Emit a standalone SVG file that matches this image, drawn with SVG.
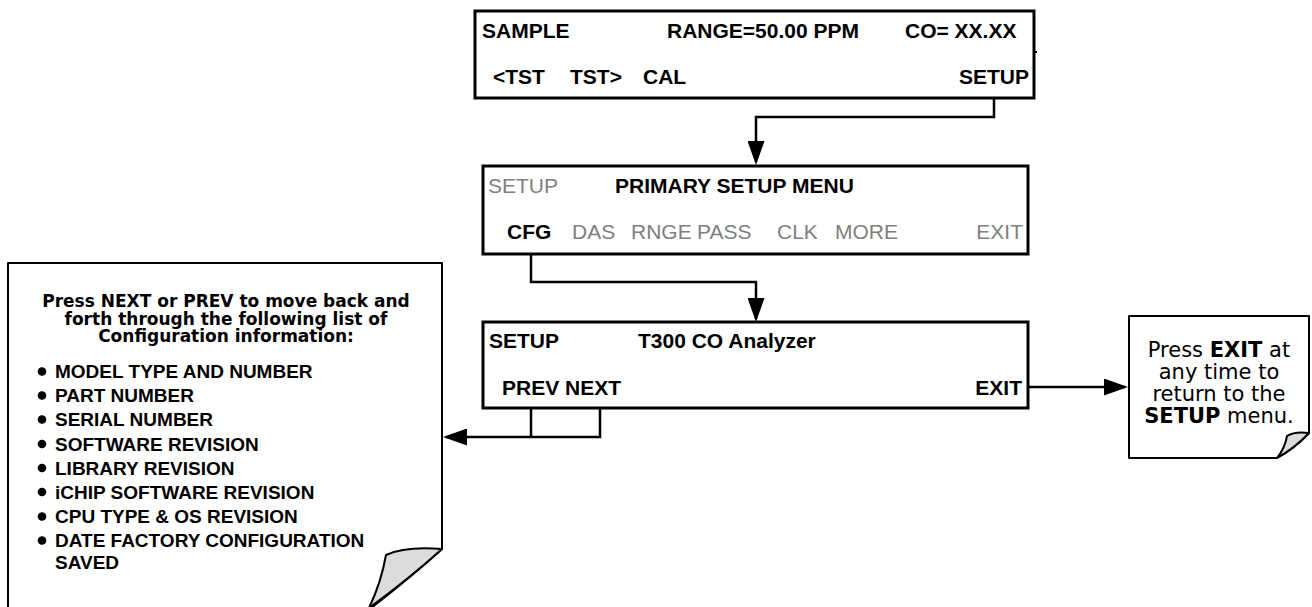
<svg xmlns="http://www.w3.org/2000/svg" width="1312" height="607" viewBox="0 0 1312 607">
<style>
.box{fill:#fff;stroke:#000;stroke-width:3}
.t{font-family:"Liberation Sans",Arial,sans-serif;font-size:21px;font-weight:bold;fill:#000}
.g{font-weight:normal;fill:#808080}
.note{fill:#fff;stroke:#000;stroke-width:2;stroke-linejoin:round}
.fold{fill:#dcdcdc;stroke:#000;stroke-width:2;stroke-linejoin:round}
.nt{font-family:"DejaVu Sans",Verdana,sans-serif;font-size:21px;text-anchor:middle;fill:#000}
.hd{font-family:"DejaVu Sans",Verdana,sans-serif;font-size:17px;font-weight:bold;text-anchor:middle;fill:#000}
.bl{font-family:"Liberation Sans",Arial,sans-serif;font-size:19px;font-weight:bold;fill:#000}
.conn{fill:none;stroke:#000;stroke-width:2.5}
</style>
<defs>
<marker id="arr" viewBox="0 0 24 17" refX="21" refY="8.5" markerWidth="24" markerHeight="17" markerUnits="userSpaceOnUse" orient="auto">
<path d="M0,0 L24,8.5 L0,17 Z" fill="#000"/>
</marker>
</defs>
<rect width="1312" height="607" fill="#fff"/>

<g id="connectors">
<path class="conn" d="M994,98 V117 H756 V162" marker-end="url(#arr)"/>
<path class="conn" d="M531,245 V282 H756 V319" marker-end="url(#arr)"/>
<path class="conn" d="M531,400 V437"/>
<path class="conn" d="M600,400 V437 H446" marker-end="url(#arr)"/>
<path class="conn" d="M1019,387 H1125" marker-end="url(#arr)"/>
</g>

<g id="sample-display">
<rect class="box" x="475" y="11" width="559" height="87"/>
<line x1="1034" y1="52" x2="1037" y2="52" stroke="#000" stroke-width="2"/>
<text class="t" x="482" y="38">SAMPLE</text>
<text class="t" x="667" y="38">RANGE=50.00 PPM</text>
<text class="t" x="905" y="38">CO= XX.XX</text>
<text class="t" x="493" y="84">&lt;TST</text>
<text class="t" x="570" y="84">TST&gt;</text>
<text class="t" x="643" y="84">CAL</text>
<text class="t" x="1029" y="84" text-anchor="end">SETUP</text>
</g>

<g id="primary-setup-menu">
<rect class="box" x="483" y="166" width="545" height="88"/>
<text class="t g" x="488" y="193">SETUP</text>
<text class="t" x="615" y="193">PRIMARY SETUP MENU</text>
<text class="t" x="507" y="239">CFG</text>
<text class="t g" x="572" y="239">DAS</text>
<text class="t g" x="631" y="239">RNGE</text>
<text class="t g" x="697" y="239">PASS</text>
<text class="t g" x="777" y="239">CLK</text>
<text class="t g" x="835" y="239">MORE</text>
<text class="t g" x="1023" y="239" text-anchor="end">EXIT</text>
</g>

<g id="cfg-display">
<rect class="box" x="483" y="322" width="545" height="86"/>
<text class="t" x="489" y="348">SETUP</text>
<text class="t" x="638" y="348">T300 CO Analyzer</text>
<text class="t" x="502" y="395">PREV NEXT</text>
<text class="t" x="1022" y="395" text-anchor="end">EXIT</text>
</g>

<g id="config-list-note">
<path class="note" d="M8,263 H442 V549 Q410,578 366,612 H8 Z"/>
<path class="fold" d="M442,549 Q405,546 386,555 Q381,583 369,608 Q410,578 442,549 Z"/>
<text class="hd" x="226" y="307">Press NEXT or PREV to move back and</text>
<text class="hd" x="226" y="324.5">forth through the following list of</text>
<text class="hd" x="226" y="342">Configuration information:</text>
<g>
<circle cx="42" cy="371.5" r="4.3"/>
<circle cx="42" cy="395.5" r="4.3"/>
<circle cx="42" cy="419.5" r="4.3"/>
<circle cx="42" cy="444" r="4.3"/>
<circle cx="42" cy="468" r="4.3"/>
<circle cx="42" cy="492" r="4.3"/>
<circle cx="42" cy="516.5" r="4.3"/>
<circle cx="42" cy="540.5" r="4.3"/>
</g>
<text class="bl" x="55" y="378">MODEL TYPE AND NUMBER</text>
<text class="bl" x="55" y="402">PART NUMBER</text>
<text class="bl" x="55" y="426">SERIAL NUMBER</text>
<text class="bl" x="55" y="450.5">SOFTWARE REVISION</text>
<text class="bl" x="55" y="474.5">LIBRARY REVISION</text>
<text class="bl" x="55" y="498.5">iCHIP SOFTWARE REVISION</text>
<text class="bl" x="55" y="523">CPU TYPE &amp; OS REVISION</text>
<text class="bl" x="55" y="547">DATE FACTORY CONFIGURATION</text>
<text class="bl" x="55" y="569">SAVED</text>
</g>

<g id="exit-note">
<path class="note" d="M1129,316 H1309 V433 Q1295,448 1277,458 H1129 Z"/>
<path class="fold" d="M1309,433 Q1295,431 1287,436 Q1285,448 1277,458 Q1295,448 1309,433 Z"/>
<text class="nt" x="1219" y="357">Press <tspan font-weight="bold">EXIT</tspan> at</text>
<text class="nt" x="1219" y="379">any time to</text>
<text class="nt" x="1219" y="401">return to the</text>
<text class="nt" x="1219" y="423"><tspan font-weight="bold">SETUP</tspan> menu.</text>
</g>
</svg>
